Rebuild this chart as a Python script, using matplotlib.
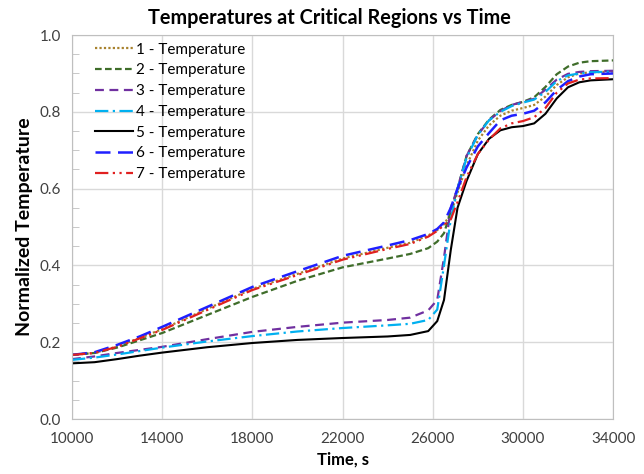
import numpy as np
import matplotlib.pyplot as plt
from matplotlib.ticker import MultipleLocator

plt.rcParams['font.family'] = ['Lato', 'DejaVu Sans']

time_s = [10000, 11000, 12000, 13000, 14000, 16000, 18000, 20000, 22000, 24000,
          25000, 25800, 26200, 26500, 26800, 27100, 27500, 28000, 28500, 29000,
          29500, 30000, 30500, 31000, 31500, 32000, 32500, 33000, 34000]

t1 = [0.167, 0.172, 0.189, 0.211, 0.234, 0.287, 0.339, 0.378, 0.418, 0.446,
      0.459, 0.478, 0.492, 0.507, 0.535, 0.590, 0.660, 0.725, 0.765, 0.790,
      0.803, 0.810, 0.818, 0.840, 0.870, 0.890, 0.900, 0.903, 0.905]
t2 = [0.167, 0.172, 0.186, 0.205, 0.224, 0.271, 0.318, 0.360, 0.395, 0.418,
      0.430, 0.445, 0.462, 0.484, 0.540, 0.600, 0.685, 0.742, 0.780, 0.805,
      0.818, 0.826, 0.838, 0.865, 0.898, 0.918, 0.928, 0.932, 0.934]
t3 = [0.156, 0.163, 0.172, 0.180, 0.188, 0.208, 0.227, 0.240, 0.251, 0.258,
      0.264, 0.283, 0.310, 0.420, 0.550, 0.600, 0.685, 0.740, 0.778, 0.802,
      0.818, 0.826, 0.834, 0.858, 0.884, 0.899, 0.904, 0.906, 0.907]
t4 = [0.154, 0.160, 0.168, 0.177, 0.186, 0.202, 0.216, 0.228, 0.237, 0.244,
      0.248, 0.258, 0.285, 0.400, 0.520, 0.600, 0.680, 0.740, 0.778, 0.800,
      0.815, 0.824, 0.832, 0.852, 0.880, 0.895, 0.900, 0.903, 0.905]
t5 = [0.145, 0.148, 0.156, 0.165, 0.173, 0.187, 0.198, 0.206, 0.211, 0.215,
      0.219, 0.229, 0.255, 0.310, 0.440, 0.550, 0.620, 0.690, 0.730, 0.752,
      0.760, 0.763, 0.770, 0.795, 0.835, 0.864, 0.877, 0.882, 0.885]
t6 = [0.167, 0.174, 0.193, 0.215, 0.240, 0.292, 0.344, 0.385, 0.425, 0.452,
      0.466, 0.482, 0.495, 0.512, 0.550, 0.600, 0.655, 0.710, 0.745, 0.778,
      0.790, 0.795, 0.803, 0.825, 0.857, 0.880, 0.892, 0.898, 0.900]
t7 = [0.167, 0.172, 0.188, 0.210, 0.232, 0.284, 0.336, 0.375, 0.415, 0.443,
      0.456, 0.475, 0.490, 0.505, 0.520, 0.565, 0.630, 0.690, 0.728, 0.757,
      0.770, 0.776, 0.786, 0.810, 0.850, 0.874, 0.884, 0.887, 0.888]

labels = ["1 - Temperature", "2 - Temperature", "3 - Temperature", "4 - Temperature",
          "5 - Temperature", "6 - Temperature", "7 - Temperature"]
series = [t1, t2, t3, t4, t5, t6, t7]
colors = ['#a8822e', '#3f6d2a', '#7030a0', '#00b0f0', '#000000', '#1f1fff', '#e02020']
styles = [(0, (1, 1)), (0, (3, 1.5)), (0, (4, 2.5)), (0, (6, 2, 1, 2)), '-',
          (0, (6, 3)), (0, (6, 2, 1, 2, 1, 2))]
widths = [1.6, 1.6, 1.6, 1.6, 1.5, 1.8, 1.6]

fig = plt.figure(figsize=(6.44, 4.74), dpi=100)
ax = fig.add_axes([0.1118, 0.116, 0.8402, 0.810])

for y, lab, c, ls, lw in zip(series, labels, colors, styles, widths):
    ax.plot(time_s, y, color=c, linestyle=ls, linewidth=lw, label=lab)

ax.set_xlim(10000, 34000)
ax.set_ylim(0, 1.0)
ax.set_xticks(range(10000, 34001, 4000))
ax.set_yticks(np.arange(0, 1.01, 0.2))
ax.set_yticklabels([f"{v:.1f}" for v in np.arange(0, 1.01, 0.2)])
ax.yaxis.set_minor_locator(MultipleLocator(0.05))
ax.tick_params(axis='both', which='major', length=0, labelsize=11, colors='#404040', pad=8)
ax.tick_params(axis='x', pad=9)
ax.tick_params(axis='y', which='minor', direction='in', length=5, color='#bfbfbf')
ax.grid(True, color='#d9d9d9', linewidth=1)
ax.set_axisbelow(True)
for s in ax.spines.values():
    s.set_color('#bfbfbf')

fig.text(0.512, 0.962, "Temperatures at Critical Regions vs Time", fontsize=14.3,
         fontweight='bold', ha='center', va='center')
ax.set_xlabel("Time, s", fontsize=12, fontweight='bold', labelpad=4)
ax.set_ylabel("Normalized Temperature", fontsize=14, fontweight='bold', labelpad=5)

ax.legend(loc='upper left', bbox_to_anchor=(0.028, 1.0), frameon=False, fontsize=11,
          handlelength=2.5, handletextpad=0.2, labelspacing=0.44, borderaxespad=0,
          borderpad=0.5)

fig.savefig("out.png", dpi=100)
